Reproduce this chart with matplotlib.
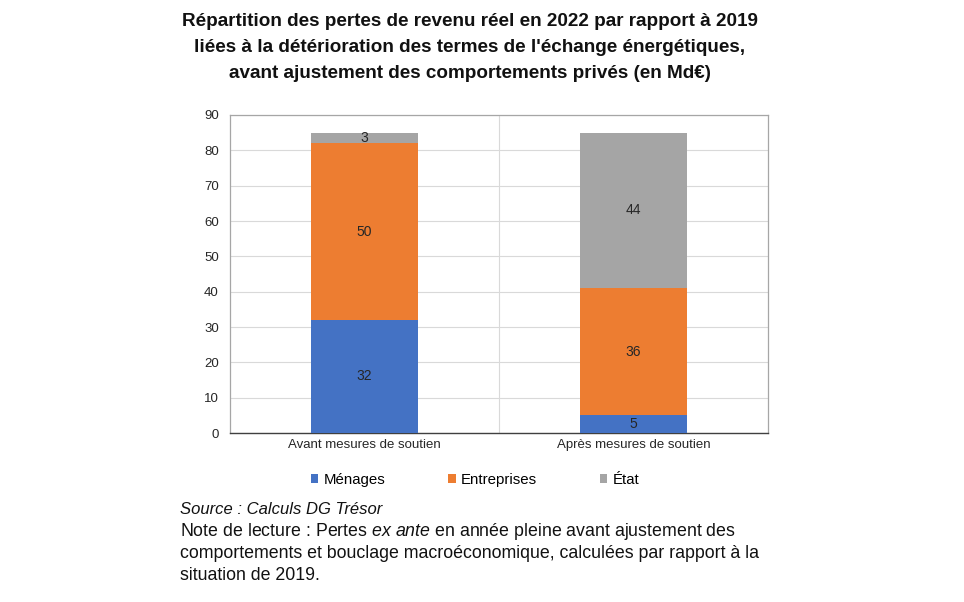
import matplotlib
matplotlib.use("Agg")
import matplotlib.pyplot as plt
import numpy as np

plt.rcParams['font.family'] = ['Liberation Sans', 'DejaVu Sans']
plt.rcParams['mathtext.fontset'] = 'custom'
plt.rcParams['mathtext.it'] = 'Liberation Sans:italic'
plt.rcParams['mathtext.rm'] = 'Liberation Sans'

categories = ["Avant mesures de soutien", "Après mesures de soutien"]
series_names = ["Ménages", "Entreprises", "État"]
menages = [32, 5]
entreprises = [50, 36]
etat = [3, 44]
yticks = [0, 10, 20, 30, 40, 50, 60, 70, 80, 90]

colors = ["#4472C4", "#ED7D31", "#A5A5A5"]

fig = plt.figure(figsize=(9.64, 6.02), dpi=100)
ax = fig.add_axes([230/964, 1-433/602, (768-230)/964, (433-115)/602])

x = np.arange(len(categories))
bottom = np.zeros(len(categories))
handles = []
for vals, name, c in zip([menages, entreprises, etat], series_names, colors):
    bars = ax.bar(x, vals, width=0.4, bottom=bottom, color=c, label=name, zorder=3)
    handles.append(bars)
    for xi, b, v in zip(x, bottom, vals):
        ax.text(xi, b + v/2, str(v), ha='center', va='center', fontsize=10, color='#262626', zorder=4)
    bottom = bottom + np.array(vals)

ax.set_xlim(-0.5, 1.5)
ax.set_ylim(0, 90)
ax.set_yticks(yticks)
ax.set_xticks(x)
ax.set_xticklabels(categories, fontsize=9.5, color='#262626')
ax.tick_params(axis='y', labelsize=9.5, colors='#262626', length=0, pad=8)
ax.tick_params(axis='x', length=0, pad=4)
ax.yaxis.grid(True, color='#D9D9D9', linewidth=0.8, zorder=0)
ax.axvline(0.5, color='#D9D9D9', linewidth=0.8, zorder=0)
for s in ['top', 'right', 'left']:
    ax.spines[s].set_color('#A6A6A6')
    ax.spines[s].set_linewidth(0.9)
ax.spines['bottom'].set_color('#404040')
ax.spines['bottom'].set_linewidth(1.0)

leg = fig.legend(handles=handles, labels=series_names, loc='center', bbox_to_anchor=(475/964, 1-480/602),
                 ncol=3, frameon=False, fontsize=10.8, handlelength=0.5, handleheight=0.5,
                 handletextpad=0.35, columnspacing=4.2)

title_lines = ["Répartition des pertes de revenu réel en 2022 par rapport à 2019",
               "liées à la détérioration des termes de l'échange énergétiques,",
               "avant ajustement des comportements privés (en Md€)"]
for yy, line in zip([20, 46, 72], title_lines):
    fig.text(470/964, 1-(yy+1.5)/602, line, ha='center', va='center', fontsize=13.6,
             fontweight='bold', color='#111111')

fig.text(180/964, 1-510/602, "Source : Calculs DG Trésor", ha='left', va='center', fontsize=12, style='italic', color='#111111')
fig.text(180/964, 1-532/602, "Note de lecture : Pertes $\\mathit{ex\\ ante}$ en année pleine avant ajustement des",
         ha='left', va='center', fontsize=12.8, color='#111111')
fig.text(180/964, 1-554/602, "comportements et bouclage macroéconomique, calculées par rapport à la",
         ha='left', va='center', fontsize=12.8, color='#111111')
fig.text(180/964, 1-576/602, "situation de 2019.", ha='left', va='center', fontsize=12.8, color='#111111')

fig.savefig("out.png", dpi=100)
